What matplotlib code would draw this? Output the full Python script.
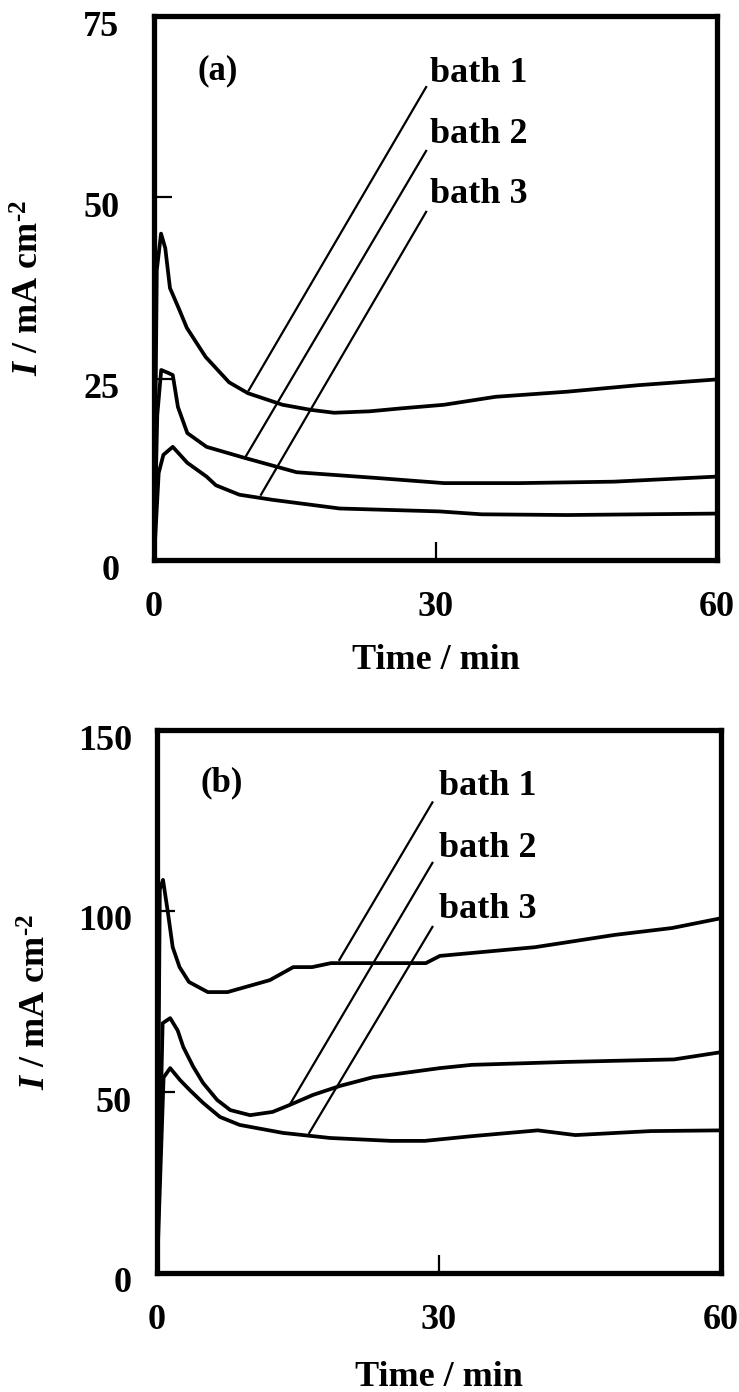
import matplotlib
matplotlib.use("Agg")
import matplotlib.pyplot as plt
from matplotlib.transforms import ScaledTranslation

plt.rcParams["font.family"] = ["Liberation Serif", "DejaVu Serif"]
plt.rcParams["font.weight"] = "bold"
plt.rcParams["mathtext.fontset"] = "custom"
plt.rcParams["mathtext.rm"] = "Liberation Serif:bold"
plt.rcParams["mathtext.it"] = "Liberation Serif:italic:bold"
plt.rcParams["mathtext.bf"] = "Liberation Serif:bold"

# --- panel (a) data: time (min) vs current density (mA cm-2) ---
a_bath1_t = [0, 0.3, 0.75, 1.2, 1.7, 2.7, 3.5, 5.5, 8, 10, 13.7, 16.7, 19.2, 23, 26.3, 30.9, 36.4, 44, 51.6, 60]
a_bath1_i = [0, 40, 45, 43, 37.5, 34.5, 32, 28, 24.5, 23, 21.4, 20.7, 20.3, 20.5, 20.9, 21.4, 22.5, 23.2, 24.1, 24.9]
a_bath2_t = [0, 0.35, 0.77, 1.5, 2.0, 2.55, 3.55, 5.6, 9.6, 15.2, 23.8, 30.9, 38.9, 49, 60]
a_bath2_i = [0, 20, 26.2, 25.8, 25.5, 21.1, 17.5, 15.6, 14.1, 12.1, 11.3, 10.6, 10.6, 10.8, 11.5]
a_bath3_t = [0, 0.5, 1.0, 2.0, 3.55, 5.6, 6.6, 9.1, 12.6, 19.8, 30.4, 34.9, 44, 60]
a_bath3_i = [0, 12, 14.5, 15.6, 13.4, 11.5, 10.3, 9.0, 8.3, 7.1, 6.7, 6.3, 6.2, 6.4]

# --- panel (b) data ---
b_bath1_t = [0, 0.3, 0.64, 1.17, 1.67, 2.4, 3.4, 5.4, 7.5, 12, 14.5, 16.5, 18.5, 28.6, 30.1, 40.2, 48.7, 54.8, 60]
b_bath1_i = [0, 106, 108.6, 99.4, 90, 84.5, 80.4, 77.6, 77.6, 80.9, 84.5, 84.5, 85.6, 85.6, 87.6, 90, 93.4, 95.3, 98]
b_bath2_t = [0, 0.6, 1.4, 2.2, 2.8, 3.85, 4.9, 6.4, 7.8, 9.9, 12.3, 14.1, 16.6, 19.5, 23, 30.1, 33.5, 43.5, 55, 60]
b_bath2_i = [0, 69, 70.4, 67, 62.4, 57, 52.5, 47.8, 45, 43.6, 44.5, 46.4, 49.2, 51.7, 54.1, 56.6, 57.5, 58.3, 59, 61]
b_bath3_t = [0, 0.7, 1.4, 2.45, 3.5, 4.9, 6.7, 8.8, 13.4, 18.4, 24.9, 28.5, 33.5, 40.5, 44.5, 52.5, 60]
b_bath3_i = [0, 54, 56.6, 53.3, 50.5, 47, 43.1, 40.9, 38.7, 37.3, 36.5, 36.5, 37.8, 39.4, 38.1, 39.2, 39.4]

labels = ["bath 1", "bath 2", "bath 3"]

# leader lines: (t_end, i_end) on curve -> (t_top, i_top) near label
a_leader_start = [(10.1, 23.4), (9.7, 14.1), (11.4, 9.0)]
a_leader_end = [(29.0, 65.2), (29.0, 56.4), (29.0, 48.0)]
a_label_pos = [(29.4, 65.9), (29.4, 57.5), (29.4, 49.2)]
b_leader_start = [(19.4, 86.5), (14.1, 46.4), (16.2, 38.7)]
b_leader_end = [(29.3, 130), (29.3, 113.3), (29.3, 95.6)]
b_label_pos = [(30.0, 132), (30.0, 115), (30.0, 98)]

FS = 26
W, H = 739, 1392
fig = plt.figure(figsize=(W / 100, H / 100), dpi=100)


def px_axes(left, top, right, bottom):
    return fig.add_axes([left / W, 1 - bottom / H, (right - left) / W, (bottom - top) / H])


def style_axes(ax, ylim, yticks, ypad, ylabel_x, xlabel_y):
    ax.set_xlim(0, 60)
    ax.set_ylim(*ylim)
    ax.set_xticks([0, 30, 60])
    ax.set_yticks(yticks)
    for s in ax.spines.values():
        s.set_linewidth(3.8)
    ax.tick_params(direction="in", length=13, width=1.6, labelsize=FS,
                   top=False, right=False)
    ax.tick_params(axis="y", pad=ypad)
    ax.tick_params(axis="x", pad=22)
    # tick labels in the original sit a little below their ticks
    off = ScaledTranslation(0, -7 / 100, fig.dpi_scale_trans)
    for lab in ax.get_yticklabels():
        lab.set_transform(lab.get_transform() + off)
    ax.set_xlabel("Time / min", fontsize=FS, fontweight="bold")
    ax.xaxis.set_label_coords(0.5, xlabel_y)
    ax.xaxis.label.set_va("center")
    ax.set_ylabel("$I$ / mA cm$^{\u20102}$", fontsize=FS, fontweight="bold")
    ax.yaxis.set_label_coords(ylabel_x, 0.5)
    ax.yaxis.label.set_va("center")


def draw_panel(ax, curves, starts, ends, label_pos, tag, tag_pos):
    for t, i in curves:
        ax.plot(t, i, color="black", lw=2.7, solid_joinstyle="round",
                solid_capstyle="round", clip_on=False)
    for (x0, y0), (x1, y1) in zip(starts, ends):
        ax.plot([x0, x1], [y0, y1], color="black", lw=1.6)
    for lab, (x, y) in zip(labels, label_pos):
        ax.text(x, y, lab, fontsize=FS, fontweight="bold", ha="left", va="baseline")
    ax.text(tag_pos[0], tag_pos[1], tag, fontsize=FS - 1, fontweight="bold",
            ha="center", va="center")


# panel (a)
ax_a = px_axes(154, 16, 717, 560)
draw_panel(ax_a,
           [(a_bath1_t, a_bath1_i), (a_bath2_t, a_bath2_i), (a_bath3_t, a_bath3_i)],
           a_leader_start, a_leader_end, a_label_pos, "(a)", (6.8, 67.5))
style_axes(ax_a, (0, 75), [0, 25, 50, 75], 25, -0.22, -100 / 544)

# panel (b)
ax_b = px_axes(157, 730, 721, 1273)
draw_panel(ax_b,
           [(b_bath1_t, b_bath1_i), (b_bath2_t, b_bath2_i), (b_bath3_t, b_bath3_i)],
           b_leader_start, b_leader_end, b_label_pos, "(b)", (6.9, 135.4))
style_axes(ax_b, (0, 150), [0, 50, 100, 150], 18, -0.213, -104 / 543)

fig.savefig("out.png", dpi=100)
